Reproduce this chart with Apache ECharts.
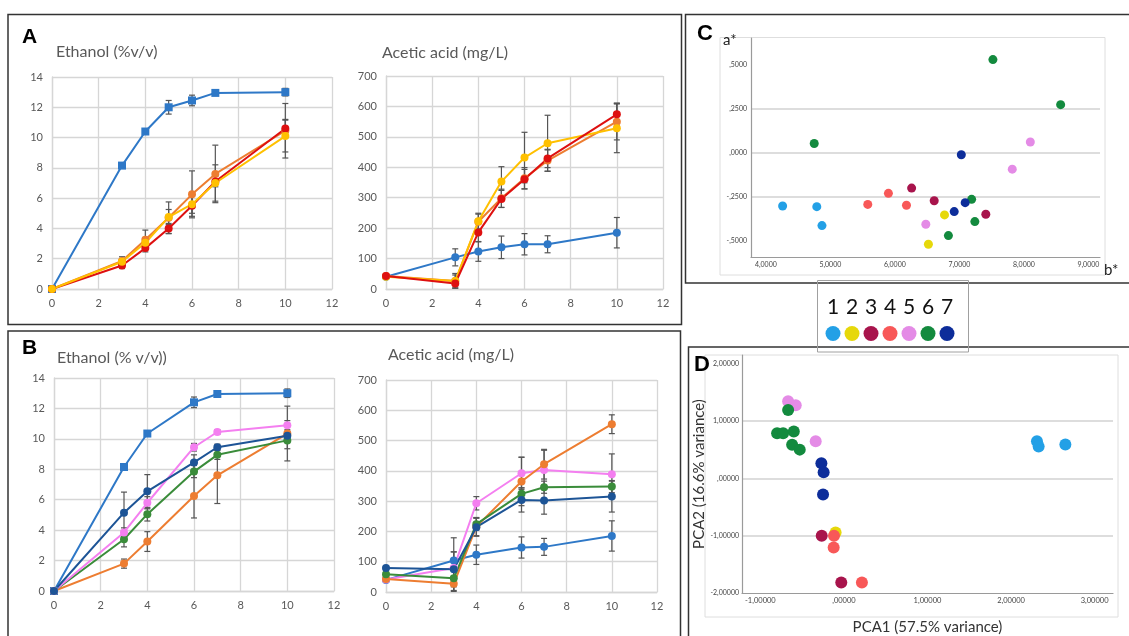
<!DOCTYPE html>
<html>
<head>
<meta charset="utf-8">
<script src="https://cdn.jsdelivr.net/npm/echarts@6/dist/echarts.min.js"></script>
<style>
  html, body { margin: 0; padding: 0; background: #ffffff; }
  #chart { width: 1129px; height: 636px; }
</style>
</head>
<body>
<div id="chart"></div>
<script>
// ---------- Fermentation kinetics (days) ----------
const daysA = [0, 3, 4, 5, 6, 7, 10];
const daysB = [0, 3, 4, 6, 7, 10];

// Panel A – ethanol (% v/v), mean and SD
const aEthBlue     = [0, 8.15, 10.4, 12.0, 12.45, 12.95, 13.0];
const aEthBlueSd   = [0, 0.15, 0.1, 0.45, 0.35, 0.1, 0.25];
const aEthOrange   = [0, 1.85, 3.25, 4.7, 6.25, 7.6, 10.45];
const aEthOrangeSd = [0, 0.28, 0.64, 1.05, 1.55, 1.9, 1.8];
const aEthRed      = [0, 1.55, 2.7, 4.0, 5.5, 7.1, 10.6];
const aEthRedSd    = [0, 0.2, 0.25, 0.33, 0.7, 0.35, 0.6];
const aEthYellow   = [0, 1.8, 3.05, 4.75, 5.6, 7.0, 10.1];
const aEthYellowSd = [0, 0.2, 0.35, 0.5, 0.6, 1.2, 1.05];

// Panel A – acetic acid (mg/L)
const aAceBlue     = [40, 104, 123, 137, 147, 147, 185];
const aAceBlueSd   = [0, 28, 32, 37, 35, 28, 50];
const aAceOrange   = [43, 26, 221, 298, 364, 422, 550];
const aAceOrangeSd = [0, 20, 25, 30, 35, 35, 60];
const aAceRed      = [43, 18, 186, 296, 361, 429, 574];
const aAceRedSd    = [0, 15, 30, 28, 32, 30, 37];
const aAceYellow   = [40, 26, 223, 353, 432, 479, 528];
const aAceYellowSd = [0, 25, 26, 49, 83, 92, 80];

// Panel B – ethanol (% v/v)
const bEthBlue     = [0, 8.15, 10.35, 12.4, 12.95, 13.0];
const bEthBlueSd   = [0, 0.2, 0.12, 0.35, 0.12, 0.28];
const bEthPink     = [0, 3.85, 5.8, 9.45, 10.45, 10.9];
const bEthPinkSd   = [0, 0.3, 0.4, 0.25, 0.15, 0.3];
const bEthNavy     = [0, 5.15, 6.55, 8.45, 9.45, 10.2];
const bEthNavySd   = [0, 1.35, 1.1, 0.5, 0.2, 0.3];
const bEthGreen    = [0, 3.4, 5.05, 7.85, 8.95, 9.9];
const bEthGreenSd  = [0, 0.5, 0.45, 0.4, 0.3, 0.55];
const bEthOrange   = [0, 1.8, 3.25, 6.25, 7.6, 10.35];
const bEthOrangeSd = [0, 0.3, 0.65, 1.45, 1.85, 1.8];

// Panel B – acetic acid (mg/L)
const bAceBlue     = [40, 104, 123, 147, 149, 185];
const bAceBlueSd   = [0, 28, 32, 35, 28, 50];
const bAceNavy     = [79, 75, 214, 304, 302, 315];
const bAceNavySd   = [0, 58, 30, 40, 45, 51];
const bAceGreen    = [59, 45, 224, 324, 346, 348];
const bAceGreenSd  = [0, 40, 20, 20, 20, 20];
const bAcePink     = [41, 79, 293, 392, 403, 389];
const bAcePinkSd   = [0, 100, 22, 53, 65, 67];
const bAceOrange   = [43, 27, 216, 365, 422, 554];
const bAceOrangeSd = [0, 25, 30, 80, 49, 31];

// ---------- Colour coordinates (panel C: b*, a*) ----------
const groupNames = ['1', '2', '3', '4', '5', '6', '7'];
const cGroup1 = [[4.26, -0.303], [4.79, -0.307], [4.87, -0.415]];
const cGroup2 = [[6.77, -0.354], [6.52, -0.521]];
const cGroup3 = [[6.26, -0.201], [6.61, -0.273], [7.41, -0.350]];
const cGroup4 = [[5.58, -0.294], [5.90, -0.231], [6.18, -0.299]];
const cGroup5 = [[8.10, 0.062], [7.82, -0.093], [6.48, -0.407]];
const cGroup6 = [[4.75, 0.053], [7.52, 0.532], [8.57, 0.275], [7.19, -0.265], [7.24, -0.392], [6.83, -0.472]];
const cGroup7 = [[7.03, -0.011], [7.09, -0.284], [6.92, -0.335]];

// ---------- PCA scores (panel D: PCA1, PCA2) ----------
const dGroup1 = [[2.31, 0.646], [2.33, 0.556], [2.65, 0.59]];
const dGroup2 = [[-0.10, -0.944]];
const dGroup3 = [[-0.266, -1.0], [-0.032, -1.815]];
const dGroup4 = [[-0.119, -1.0], [-0.123, -1.208], [0.215, -1.815]];
const dGroup5 = [[-0.668, 1.343], [-0.577, 1.275], [-0.338, 0.646]];
const dGroup6 = [[-0.668, 1.191], [-0.80, 0.787], [-0.728, 0.787], [-0.60, 0.815], [-0.62, 0.584], [-0.529, 0.50]];
const dGroup7 = [[-0.27, 0.264], [-0.243, 0.107], [-0.25, -0.281]];

// Tick values
const lineXTicksMax = 12;
const cXTicks = [4, 5, 6, 7, 8, 9];
const cYTicks = [-0.5, -0.25, 0, 0.25, 0.5];
const dXTicks = [-1, 0, 1, 2, 3];
const dYTicks = [-2, -1, 0, 1, 2];

// ---------- Styling ----------
const C_BLUE = '#2E78C7', C_ORANGE = '#ED7D31', C_RED = '#DE1010', C_YELLOW = '#FFC000';
const C_PINK = '#F47FF0', C_NAVY = '#1D5496', C_GREEN = '#3A8C3A';
const groupColors = ['#23A0E6', '#E6D80A', '#A8144C', '#F85858', '#E48BE6', '#138A3E', '#0D2D9A'];
const cGroups = [cGroup1, cGroup2, cGroup3, cGroup4, cGroup5, cGroup6, cGroup7];
const dGroups = [dGroup1, dGroup2, dGroup3, dGroup4, dGroup5, dGroup6, dGroup7];
const GRID_GREY = '#d6d6d6';
const LABEL_GREY = '#595959';
const FONT = 'Lato, "Liberation Sans", sans-serif';

const chart = echarts.init(document.getElementById('chart'), null, { renderer: 'canvas' });

function pairs(days, vals) { return days.map((d, i) => [d, vals[i]]); }
function errPairs(days, vals, sds) {
  const out = [];
  days.forEach((d, i) => { if (sds[i] > 0) out.push([d, vals[i] - sds[i], vals[i] + sds[i]]); });
  return out;
}
function fmtComma(v, dec) {
  let s = Math.abs(v).toFixed(dec);
  if (s.charAt(0) === '0') s = s.slice(1);
  s = s.replace('.', ',');
  return (v < 0 ? '-' : '') + s;
}

function lineAxis(gi, max, interval) {
  return {
    type: 'value', gridIndex: gi, min: 0, max: max, interval: interval,
    axisLine: { show: true, lineStyle: { color: GRID_GREY, width: 1.3 } },
    axisTick: { show: false },
    axisLabel: { color: LABEL_GREY, fontSize: 11, margin: 9, fontFamily: FONT },
    splitLine: { show: true, showMinLine: true, showMaxLine: true, lineStyle: { color: GRID_GREY, width: 1.3 } }
  };
}

function lineSeries(gi, days, vals, color, symbol) {
  return {
    type: 'line', xAxisIndex: gi, yAxisIndex: gi, data: pairs(days, vals),
    symbol: symbol || 'circle', symbolSize: 8, showSymbol: true,
    lineStyle: { color: color, width: 2 }, itemStyle: { color: color },
    animation: false, silent: true
  };
}

function errRender(params, api) {
  const x = api.value(0);
  const lo = api.coord([x, api.value(1)]);
  const hi = api.coord([x, api.value(2)]);
  const w = 3;
  const st = { stroke: '#555555', lineWidth: 1.2 };
  return {
    type: 'group',
    children: [
      { type: 'line', shape: { x1: lo[0], y1: lo[1], x2: hi[0], y2: hi[1] }, style: st },
      { type: 'line', shape: { x1: lo[0] - w, y1: lo[1], x2: lo[0] + w, y2: lo[1] }, style: st },
      { type: 'line', shape: { x1: hi[0] - w, y1: hi[1], x2: hi[0] + w, y2: hi[1] }, style: st }
    ]
  };
}

function errSeries(gi, days, vals, sds) {
  return {
    type: 'custom', xAxisIndex: gi, yAxisIndex: gi, renderItem: errRender,
    data: errPairs(days, vals, sds), encode: { x: 0, y: [1, 2] },
    clip: true, animation: false, silent: true, z: 3
  };
}

function scatterAxisStyle(extra) {
  return Object.assign({
    type: 'value',
    axisLine: { show: true, onZero: false, lineStyle: { color: '#9a9a9a', width: 1.2 } },
  }, extra);
}

const xAxes = [
  lineAxis(0, lineXTicksMax, 2), lineAxis(1, lineXTicksMax, 2),
  lineAxis(2, lineXTicksMax, 2), lineAxis(3, lineXTicksMax, 2),
  scatterAxisStyle({
    gridIndex: 4, min: 3.77, max: 9.18,
    axisTick: { show: false, customValues: cXTicks },
    axisLabel: { customValues: cXTicks, formatter: v => fmtComma(v, 4), fontSize: 7, color: '#444', margin: 4, fontFamily: FONT },
    splitLine: { show: false }
  }),
  scatterAxisStyle({
    gridIndex: 5, min: -1.22, max: 3.22,
    name: 'PCA1 (57.5% variance)', nameLocation: 'middle', nameGap: 27,
    nameTextStyle: { fontSize: 15, color: '#333', fontFamily: FONT },
    axisTick: { show: false, customValues: dXTicks },
    axisLabel: { customValues: dXTicks, formatter: v => fmtComma(v, 5), fontSize: 7.5, color: '#444', margin: 4, fontFamily: FONT },
    splitLine: { show: false }
  })
];

const yAxes = [
  lineAxis(0, 14, 2), lineAxis(1, 700, 100),
  lineAxis(2, 14, 2), lineAxis(3, 700, 100),
  scatterAxisStyle({
    gridIndex: 4, min: -0.594, max: 0.655,
    axisTick: { show: false, customValues: cYTicks },
    axisLabel: { customValues: cYTicks, formatter: v => fmtComma(v, 4), fontSize: 7, color: '#444', margin: 4, fontFamily: FONT },
    splitLine: { show: true, showMinLine: false, showMaxLine: false, lineStyle: { color: '#d2d2d2', width: 1.5 } }
  }),
  scatterAxisStyle({
    gridIndex: 5, min: -2.0, max: 2.15,
    name: 'PCA2 (16.6% variance)', nameLocation: 'middle', nameGap: 34, nameRotate: 90,
    nameTextStyle: { fontSize: 15, color: '#333', fontFamily: FONT },
    axisTick: { show: false, customValues: dYTicks },
    axisLabel: { customValues: dYTicks, formatter: v => fmtComma(v, 5), fontSize: 7, color: '#444', margin: 3, fontFamily: FONT },
    splitLine: { show: true, showMinLine: false, showMaxLine: false, lineStyle: { color: '#d2d2d2', width: 1.5 } }
  })
];

const series = [
  // A – ethanol
  lineSeries(0, daysA, aEthBlue, C_BLUE, 'rect'),
  lineSeries(0, daysA, aEthOrange, C_ORANGE),
  lineSeries(0, daysA, aEthRed, C_RED),
  lineSeries(0, daysA, aEthYellow, C_YELLOW),
  errSeries(0, daysA, aEthBlue, aEthBlueSd),
  errSeries(0, daysA, aEthOrange, aEthOrangeSd),
  errSeries(0, daysA, aEthRed, aEthRedSd),
  errSeries(0, daysA, aEthYellow, aEthYellowSd),
  // A – acetic acid
  lineSeries(1, daysA, aAceBlue, C_BLUE),
  lineSeries(1, daysA, aAceOrange, C_ORANGE),
  lineSeries(1, daysA, aAceYellow, C_YELLOW),
  lineSeries(1, daysA, aAceRed, C_RED),
  errSeries(1, daysA, aAceBlue, aAceBlueSd),
  errSeries(1, daysA, aAceOrange, aAceOrangeSd),
  errSeries(1, daysA, aAceRed, aAceRedSd),
  errSeries(1, daysA, aAceYellow, aAceYellowSd),
  // B – ethanol
  lineSeries(2, daysB, bEthBlue, C_BLUE, 'rect'),
  lineSeries(2, daysB, bEthOrange, C_ORANGE),
  lineSeries(2, daysB, bEthGreen, C_GREEN),
  lineSeries(2, daysB, bEthPink, C_PINK),
  lineSeries(2, daysB, bEthNavy, C_NAVY),
  errSeries(2, daysB, bEthBlue, bEthBlueSd),
  errSeries(2, daysB, bEthOrange, bEthOrangeSd),
  errSeries(2, daysB, bEthGreen, bEthGreenSd),
  errSeries(2, daysB, bEthPink, bEthPinkSd),
  errSeries(2, daysB, bEthNavy, bEthNavySd),
  // B – acetic acid
  lineSeries(3, daysB, bAceBlue, C_BLUE),
  lineSeries(3, daysB, bAcePink, C_PINK),
  lineSeries(3, daysB, bAceOrange, C_ORANGE),
  lineSeries(3, daysB, bAceGreen, C_GREEN),
  lineSeries(3, daysB, bAceNavy, C_NAVY),
  errSeries(3, daysB, bAceBlue, bAceBlueSd),
  errSeries(3, daysB, bAcePink, bAcePinkSd),
  errSeries(3, daysB, bAceOrange, bAceOrangeSd),
  errSeries(3, daysB, bAceGreen, bAceGreenSd),
  errSeries(3, daysB, bAceNavy, bAceNavySd)
];

groupNames.forEach((name, i) => {
  series.push({
    type: 'scatter', name: name, xAxisIndex: 4, yAxisIndex: 4, data: cGroups[i],
    symbol: 'circle', symbolSize: 9, itemStyle: { color: groupColors[i], opacity: 1 },
    animation: false, silent: true
  });
});
groupNames.forEach((name, i) => {
  series.push({
    type: 'scatter', name: name, xAxisIndex: 5, yAxisIndex: 5, data: dGroups[i],
    symbol: 'circle', symbolSize: 12, itemStyle: { color: groupColors[i], opacity: 1 },
    animation: false, silent: true
  });
});

// ---------- Frames, panel letters, titles and group key ----------
const frameStyle = { fill: 'none', stroke: '#333333', lineWidth: 1.5 };
const innerFrame = { fill: 'none', stroke: '#dedede', lineWidth: 1 };
function txt(x, y, text, size, opts) {
  return Object.assign({
    type: 'text', x: x, y: y,
    style: Object.assign({ text: text, fontSize: size, fontFamily: FONT, fill: LABEL_GREY, verticalAlign: 'middle', align: 'left' }, (opts || {}).style || {})
  }, (opts || {}).el || {});
}
const bold = { style: { fill: '#000', fontWeight: 'bold', fontFamily: '"Liberation Sans", Arial, sans-serif' } };

const graphics = [
  { type: 'rect', shape: { x: 8, y: 14.5, width: 673.5, height: 310 }, style: frameStyle },
  { type: 'rect', shape: { x: 8, y: 331, width: 672.5, height: 320 }, style: frameStyle },
  { type: 'rect', shape: { x: 685.5, y: 14.5, width: 460, height: 268.5 }, style: frameStyle },
  { type: 'rect', shape: { x: 688.5, y: 347, width: 460, height: 300 }, style: frameStyle },
  { type: 'rect', shape: { x: 720, y: 37.5, width: 385, height: 237.5 }, style: innerFrame },
  { type: 'rect', shape: { x: 705, y: 355, width: 413, height: 262 }, style: innerFrame },
  { type: 'rect', shape: { x: 817.5, y: 280.5, width: 151, height: 71.5 }, style: { fill: 'none', stroke: '#a0a0a0', lineWidth: 1 } },
  txt(22, 37, 'A', 21, bold),
  txt(22, 348, 'B', 21, bold),
  txt(697, 34, 'C', 22, bold),
  txt(694, 365, 'D', 22, bold),
  txt(56, 52, 'Ethanol (%v/v)', 16),
  txt(382, 52.5, 'Acetic acid (mg/L)', 16),
  txt(57, 358, 'Ethanol (% v/v))', 16),
  txt(388, 355, 'Acetic acid (mg/L)', 16),
  txt(723, 40, 'a*', 15, { style: { fill: '#222' } }),
  txt(1104, 270, 'b*', 15, { style: { fill: '#222' } })
];
groupNames.forEach((name, i) => {
  const cx = 833 + i * 19;
  graphics.push(txt(cx, 307, name, 21, { style: { fill: '#111', align: 'center' } }));
  graphics.push({ type: 'circle', shape: { cx: cx, cy: 333.5, r: 7.5 }, style: { fill: groupColors[i] } });
});

chart.setOption({
  backgroundColor: '#ffffff',
  animation: false,
  grid: [
    { left: 52, top: 77, width: 280, height: 212 },
    { left: 386, top: 76, width: 277, height: 213 },
    { left: 54, top: 378, width: 280, height: 213 },
    { left: 386, top: 380, width: 271, height: 212 },
    { left: 751, top: 38, width: 349, height: 219 },
    { left: 742, top: 355, width: 371, height: 246 }
  ],
  xAxis: xAxes,
  yAxis: yAxes,
  series: series,
  graphic: { elements: graphics }
});
</script>
</body>
</html>
